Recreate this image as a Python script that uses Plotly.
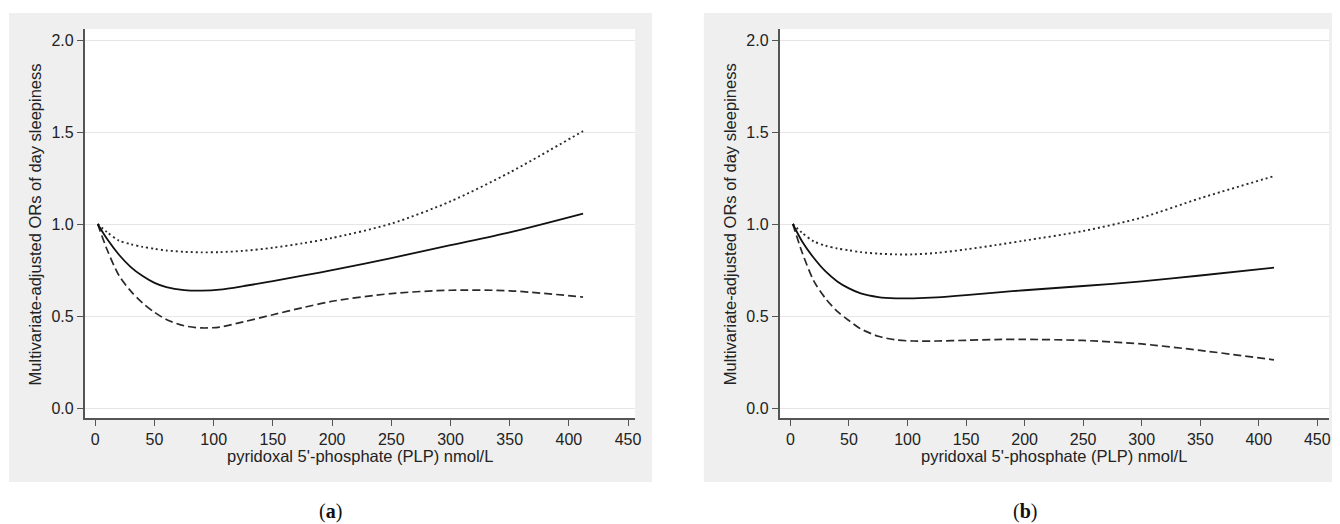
import plotly.graph_objects as go

# ---------------- data ----------------
x_a = [2, 10, 20, 30, 40, 50, 60, 75, 90, 105, 125, 150, 175, 200, 250, 300, 350, 412]
or_a = [1.0, 0.918, 0.833, 0.766, 0.717, 0.68, 0.657, 0.641, 0.638, 0.643, 0.662, 0.69, 0.719, 0.749, 0.815, 0.885, 0.955, 1.057]
upper_a = [1.0, 0.955, 0.91, 0.89, 0.876, 0.865, 0.856, 0.849, 0.846, 0.847, 0.854, 0.871, 0.895, 0.924, 1.002, 1.123, 1.28, 1.505]
lower_a = [1.0, 0.86, 0.72, 0.635, 0.57, 0.52, 0.481, 0.447, 0.435, 0.44, 0.468, 0.507, 0.545, 0.58, 0.622, 0.64, 0.637, 0.603]

x_b = [2, 10, 20, 30, 40, 50, 60, 75, 90, 105, 125, 150, 175, 200, 250, 300, 350, 413]
or_b = [1.0, 0.905, 0.815, 0.742, 0.688, 0.65, 0.623, 0.603, 0.596, 0.596, 0.601, 0.613, 0.627, 0.64, 0.663, 0.688, 0.72, 0.763]
upper_b = [1.0, 0.952, 0.905, 0.882, 0.867, 0.857, 0.847, 0.839, 0.835, 0.835, 0.843, 0.862, 0.885, 0.91, 0.962, 1.035, 1.14, 1.26]
lower_b = [1.0, 0.845, 0.69, 0.595, 0.525, 0.475, 0.43, 0.39, 0.37, 0.364, 0.364, 0.368, 0.372, 0.373, 0.367, 0.348, 0.313, 0.262]

x_ticks = [0, 50, 100, 150, 200, 250, 300, 350, 400, 450]
y_ticks = [0, 0.5, 1.0, 1.5, 2.0]
y_ticklabels = ["0.0", "0.5", "1.0", "1.5", "2.0"]

x_title = "pyridoxal 5'-phosphate (PLP) nmol/L"
y_title = "Multivariate-adjusted ORs of day sleepiness"
panel_labels = ["(<b>a</b>)", "(<b>b</b>)"]

# ---------------- layout geometry ----------------
# the page body has an 8px margin, so the figure starts at (8, 8) in the window
OFF = 8
W, H = 1340 - OFF, 524 - OFF
FONT = "Liberation Sans, Arial, sans-serif"
TXT = "#222222"
AX = "#555555"


def px(v):
    return (v - OFF) / W


def py(v):
    return 1 - (v - OFF) / H


fig = go.Figure()

series = [
    (x_a, or_a, upper_a, lower_a, "x", "y"),
    (x_b, or_b, upper_b, lower_b, "x2", "y2"),
]
for xs, mid, up, lo, xa, ya in series:
    fig.add_trace(go.Scatter(x=xs, y=up, mode="lines",
                             line=dict(color="#2a2a2a", width=1.9, dash="2px,3px", shape="spline", smoothing=0.8),
                             xaxis=xa, yaxis=ya, showlegend=False, hoverinfo="skip"))
    fig.add_trace(go.Scatter(x=xs, y=lo, mode="lines",
                             line=dict(color="#2a2a2a", width=1.7, dash="8px,4px", shape="spline", smoothing=0.8),
                             xaxis=xa, yaxis=ya, showlegend=False, hoverinfo="skip"))
    fig.add_trace(go.Scatter(x=xs, y=mid, mode="lines",
                             line=dict(color="#111111", width=1.8, shape="spline", smoothing=0.8),
                             xaxis=xa, yaxis=ya, showlegend=False, hoverinfo="skip"))

panels = [
    dict(g0=9, g1=655, p0=85, p1=638, xr=[-9.0, 456.0], ytx=35.5, lab=332),
    dict(g0=707, g1=1340, p0=783, p1=1335, xr=[-9.35, 460.0], ytx=733.5, lab=1030),
]
g_top, g_bot = 13, 482
p_top, p_bot = 29, 418

shapes = []
annotations = []
axis_common = dict(
    showline=True, linecolor=AX, linewidth=1.5, ticks="outside", ticklen=6, tickwidth=1.2,
    tickcolor=AX, tickfont=dict(family=FONT, size=16, color=TXT), zeroline=False,
)
layout_axes = {}
for i, p in enumerate(panels):
    sfx = "" if i == 0 else str(i + 1)
    shapes.append(dict(type="rect", xref="paper", yref="paper", x0=px(p["g0"]), x1=px(p["g1"]),
                       y0=py(g_bot), y1=py(g_top), fillcolor="#efefef", line=dict(width=0), layer="below"))
    shapes.append(dict(type="rect", xref="paper", yref="paper", x0=px(p["p0"]), x1=px(p["p1"]),
                       y0=py(p_bot), y1=py(p_top), fillcolor="white", line=dict(width=0), layer="below"))
    layout_axes["xaxis" + sfx] = dict(
        domain=[px(p["p0"]), px(p["p1"])], range=p["xr"], tickvals=x_ticks, showgrid=False,
        anchor="y" + sfx, **axis_common,
    )
    layout_axes["yaxis" + sfx] = dict(
        domain=[py(p_bot), py(p_top)], range=[-10 / 184, 2 + 11 / 184], tickvals=y_ticks, ticktext=y_ticklabels,
        showgrid=True, gridcolor="#e6e6e6", gridwidth=1, anchor="x" + sfx, **axis_common,
    )
    annotations.append(dict(text=y_title, xref="paper", yref="paper", x=px(p["ytx"]), y=py(224), textangle=-90,
                            showarrow=False, xanchor="center", yanchor="middle",
                            font=dict(family=FONT, size=16.5, color=TXT)))
    annotations.append(dict(text=x_title, xref="paper", yref="paper", x=px((p["p0"] + p["p1"]) / 2), y=py(456),
                            showarrow=False, xanchor="center", yanchor="middle",
                            font=dict(family=FONT, size=16.5, color=TXT)))
    annotations.append(dict(text=panel_labels[i], xref="paper", yref="paper", x=px(p["lab"]),
                            y=py(511), showarrow=False, xanchor="center", yanchor="middle",
                            font=dict(family="Liberation Serif, DejaVu Serif, serif", size=20, color="#111111")))

fig.update_layout(
    width=W, height=H, margin=dict(l=0, r=0, t=0, b=0),
    paper_bgcolor="white", plot_bgcolor="rgba(0,0,0,0)",
    shapes=shapes, annotations=annotations, showlegend=False,
    **layout_axes,
)

fig.write_html("out.html")
